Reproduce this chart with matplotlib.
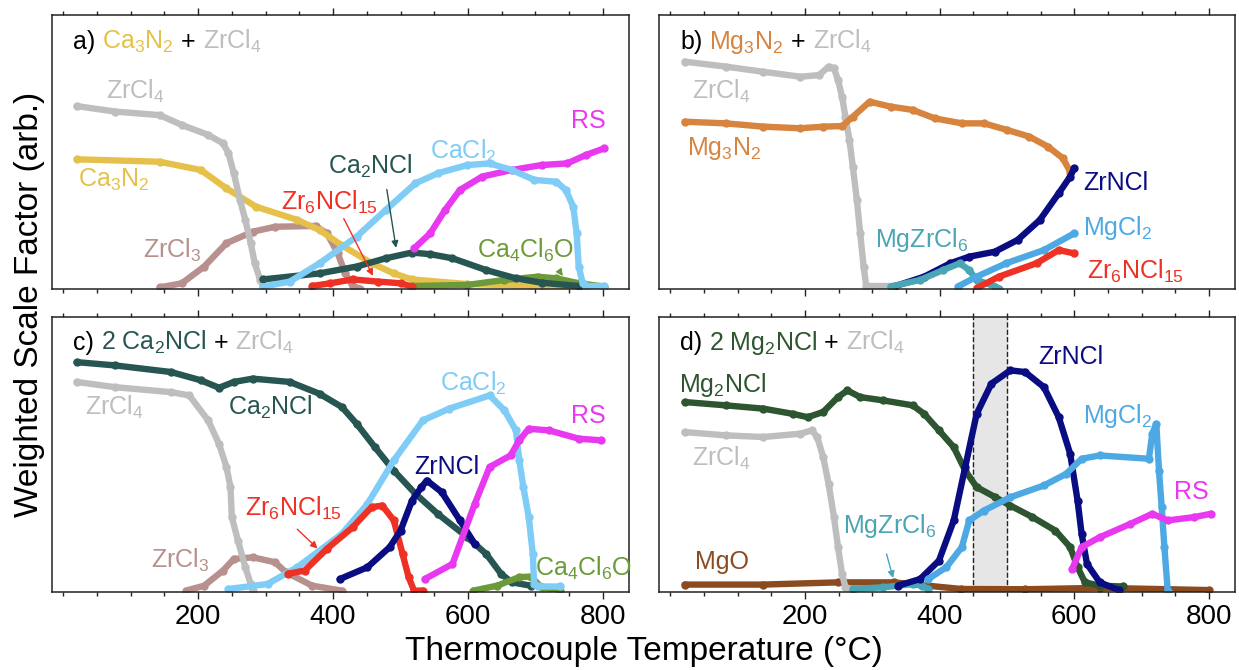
import matplotlib
matplotlib.use('Agg')
import matplotlib.pyplot as plt
import numpy as np

plt.rcParams['font.family'] = ['Liberation Sans', 'DejaVu Sans']
plt.rcParams['mathtext.default'] = 'regular'

# ---- data (y = arb. units, 0..100 of panel height) ----
# panel a) Ca3N2 + ZrCl4
a_zrcl4_t = [20, 77, 143, 176, 215, 237, 245, 253, 262, 270, 278, 284, 292, 296]
a_zrcl4_y = [66.8, 64.8, 63.5, 59.9, 56.3, 53.2, 49.6, 42.3, 32.6, 25.3, 16.8, 9.5, 3.4, 1.2]
a_ca3n2_t = [20, 143, 204, 242, 286, 347, 380, 412, 457, 490, 517, 599, 709, 764]
a_ca3n2_y = [47.4, 46.5, 43.5, 36.8, 30.1, 25.3, 21.6, 16.2, 9.5, 5.8, 3.6, 1.9, 1.2, 1.2]
a_zrcl3_t = [143, 176, 209, 242, 281, 314, 374, 391, 407, 418, 429, 440]
a_zrcl3_y = [0.7, 2.2, 8.3, 16.8, 21.0, 22.8, 23.1, 20.4, 13.1, 5.8, 1.2, 0.2]
a_ca2ncl_t = [296, 380, 435, 478, 517, 544, 577, 627, 671, 709, 764]
a_ca2ncl_y = [3.6, 5.8, 8.3, 11.3, 13.4, 12.8, 11.3, 7.0, 4.0, 2.4, 1.2]
a_cacl2_t = [296, 336, 380, 435, 478, 522, 555, 599, 632, 665, 698, 731, 745, 756, 761, 764, 770, 775, 802]
a_cacl2_y = [1.0, 2.8, 9.5, 19.2, 28.9, 38.6, 42.3, 45.3, 45.9, 43.5, 39.9, 39.2, 36.2, 30.1, 20.4, 8.3, 2.2, 1.2, 1.2]
a_rs_t = [520, 544, 566, 588, 621, 665, 709, 747, 775, 802]
a_rs_y = [14.9, 20.4, 28.9, 36.2, 41.1, 43.5, 45.3, 45.9, 49.0, 51.4]
a_zr6_t = [369, 396, 429, 467, 500, 517]
a_zr6_y = [1.2, 2.2, 3.6, 2.8, 2.2, 1.0]
a_ca4_t = [517, 599, 654, 703, 731, 764, 802]
a_ca4_y = [1.2, 1.6, 3.4, 4.6, 4.0, 2.2, 1.0]

# panel b) Mg3N2 + ZrCl4
b_zrcl4_t = [21, 82, 138, 193, 221, 235, 243, 249, 255, 260, 266, 271, 277, 282, 287, 291, 332]
b_zrcl4_y = [83.0, 81.2, 79.3, 77.5, 78.1, 81.2, 80.6, 76.3, 70.2, 62.9, 54.4, 44.7, 32.6, 20.4, 8.3, 1.2, 1.2]
b_mg3n2_t = [21, 82, 138, 193, 227, 255, 271, 296, 327, 360, 393, 433, 466, 500, 533, 561, 583, 594]
b_mg3n2_y = [61.1, 60.5, 59.3, 58.7, 59.3, 59.5, 62.9, 68.4, 66.6, 65.4, 62.3, 60.5, 60.5, 58.1, 55.7, 52.0, 47.8, 42.9]
b_zrncl_t = [332, 377, 416, 444, 482, 516, 549, 577, 594, 600]
b_zrncl_y = [1.0, 4.6, 9.5, 11.9, 13.7, 18.0, 25.3, 35.0, 41.1, 44.1]
b_mgzr_t = [327, 371, 405, 430, 444, 455, 483, 488]
b_mgzr_y = [1.0, 3.4, 7.0, 9.5, 7.0, 3.4, 1.0, 0.2]
b_mgcl2_t = [427, 455, 499, 555, 600]
b_mgcl2_y = [1.0, 4.6, 9.5, 14.3, 20.4]
b_zr6_t = [455, 488, 544, 577, 600]
b_zr6_y = [0.4, 4.6, 9.5, 14.3, 13.1]

# panel c) 2 Ca2NCl + ZrCl4
c_ca2ncl_t = [20, 77, 160, 204, 231, 253, 281, 336, 380, 413, 435, 462, 490, 522, 555, 599, 627, 649, 665, 693]
c_ca2ncl_y = [83.6, 82.4, 80.0, 77.0, 74.3, 76.4, 77.6, 76.4, 72.1, 67.3, 61.2, 52.7, 44.2, 35.8, 28.5, 20.0, 13.9, 6.7, 3.6, 2.4]
c_zrcl4_t = [20, 77, 160, 187, 215, 231, 242, 248, 250, 259, 270, 278, 281]
c_zrcl4_y = [76.4, 74.5, 72.7, 71.5, 62.4, 53.9, 45.5, 38.2, 27.3, 18.8, 9.1, 3.0, 0.6]
c_zrcl3_t = [182, 209, 237, 253, 281, 314, 330, 369, 413]
c_zrcl3_y = [0.6, 2.4, 7.9, 12.1, 12.7, 10.9, 7.3, 2.4, 0.6]
c_cacl2_t = [245, 303, 347, 413, 451, 490, 533, 572, 632, 654, 671, 676, 682, 690, 696, 698, 704, 737]
c_cacl2_y = [1.2, 3.0, 9.1, 21.2, 32.1, 47.9, 62.4, 66.7, 71.5, 66.1, 58.8, 47.9, 38.2, 27.3, 13.9, 3.0, 2.1, 2.1]
c_zr6_t = [333, 358, 391, 429, 457, 473, 490, 503, 512, 520, 533]
c_zr6_y = [6.7, 7.9, 15.8, 23.6, 30.9, 31.5, 26.1, 13.9, 5.5, 0.6, 0.6]
c_zrncl_t = [410, 451, 484, 500, 517, 531, 539, 561, 588, 610]
c_zrncl_y = [4.8, 9.1, 16.4, 22.4, 33.3, 38.2, 40.6, 36.4, 26.1, 17.6]
c_rs_t = [536, 577, 610, 632, 663, 676, 690, 720, 764, 797]
c_rs_y = [4.8, 10.3, 32.1, 45.5, 49.7, 55.2, 59.4, 58.8, 55.8, 55.2]
c_ca4_t = [608, 643, 676, 693, 709, 737]
c_ca4_y = [0.6, 2.4, 5.5, 5.7, 1.8, 0.6]

# panel d) 2 Mg2NCl + ZrCl4
d_mg2ncl_t = [21, 82, 138, 182, 204, 227, 249, 263, 282, 316, 360, 377, 399, 421, 438, 455, 483, 505, 538, 572, 594, 605, 616, 638, 672]
d_mg2ncl_y = [69.1, 67.9, 66.7, 64.8, 63.6, 65.5, 70.9, 73.3, 70.9, 69.7, 67.9, 64.8, 58.8, 52.7, 44.2, 38.2, 34.5, 31.5, 27.3, 22.4, 16.4, 9.1, 3.6, 2.4, 2.1]
d_zrcl4_t = [21, 82, 138, 193, 210, 218, 227, 235, 243, 249, 255, 260, 271]
d_zrcl4_y = [58.2, 57.0, 56.4, 57.6, 58.8, 56.4, 49.1, 39.4, 27.3, 16.4, 6.7, 1.8, 0.8]
d_mgo_t = [21, 138, 249, 332, 382, 432, 527, 639, 800]
d_mgo_y = [2.8, 2.8, 3.6, 3.6, 2.4, 1.2, 1.1, 1.6, 0.8]
d_mgzr_t = [271, 316, 360, 374, 383]
d_mgzr_y = [1.2, 1.8, 3.0, 2.4, 1.2]
d_zrncl_t = [338, 371, 399, 421, 438, 455, 477, 505, 527, 555, 577, 594, 605, 611, 619, 638, 666]
d_zrncl_y = [2.4, 4.8, 11.5, 26.1, 45.5, 64.8, 75.8, 80.6, 80.0, 74.5, 63.6, 50.3, 33.3, 21.2, 10.3, 3.6, 0.8]
d_mgcl2_t = [383, 410, 433, 444, 466, 505, 555, 588, 611, 638, 711, 716, 722, 726, 730, 734, 739]
d_mgcl2_y = [4.8, 9.1, 16.4, 26.1, 29.7, 34.5, 38.8, 43.0, 48.5, 49.7, 48.5, 57.6, 61.2, 44.2, 30.9, 16.4, 0.6]
d_rs_t = [597, 611, 638, 683, 716, 739, 778, 803]
d_rs_y = [8.5, 16.4, 20.0, 24.8, 28.5, 26.1, 27.3, 28.5]
d_window = [450, 500]

# colours
C_CA3N2 = '#E5C14B'
C_ZRCL4 = '#BEBEBE'
C_ZRCL3 = '#B8908D'
C_CA2NCL = '#275552'
C_CACL2 = '#7FCCF7'
C_RS = '#E838F0'
C_ZR6 = '#EE3124'
C_CA4 = '#6C9A3A'
C_MG3N2 = '#D7843F'
C_ZRNCL = '#0A0C82'
C_MGCL2 = '#4DA9E4'
C_MGZR = '#4AA5B5'
C_MG2NCL = '#2D5530'
C_MGO = '#8A4B20'

FS = 18

fig = plt.figure(figsize=(12.39, 6.70), dpi=100)
ax_a = fig.add_axes([0.0417, 0.5682, 0.4662, 0.4094])
ax_b = fig.add_axes([0.5319, 0.5682, 0.4649, 0.4094])
ax_c = fig.add_axes([0.0417, 0.1160, 0.4662, 0.4109])
ax_d = fig.add_axes([0.5319, 0.1160, 0.4649, 0.4109])


def curve(ax, t, y, c, z=2):
    ax.plot(t, y, color=c, lw=4.6, marker='o', ms=5, mec=c, mfc=c,
            solid_capstyle='round', solid_joinstyle='round', zorder=z)


def label(ax, x, y, s, c):
    ax.text(x, y, s, color=c, fontsize=FS, ha='left', va='center', zorder=5)


def arrow(ax, tail, head, c):
    ax.annotate('', xy=head, xytext=tail, zorder=6,
                arrowprops=dict(arrowstyle='-|>', color=c, lw=1, mutation_scale=10))


def rainbow(ax, x, y, parts):
    r = fig.canvas.get_renderer()
    gap = FS * 100 / 72 * 0.28
    for s, c in parts:
        t = ax.text(x, y, s, color=c, fontsize=FS, transform=ax.transAxes,
                    ha='left', va='baseline', zorder=5)
        bb = t.get_window_extent(r)
        x = ax.transAxes.inverted().transform((bb.x1 + gap, bb.y0))[0]


for ax, bottom in [(ax_a, False), (ax_b, False), (ax_c, True), (ax_d, True)]:
    ax.set_xlim(-17, 839)
    ax.set_ylim(0, 100)
    ax.set_yticks([])
    ax.set_xticks([200, 400, 600, 800])
    ax.set_xticks(np.arange(0, 850, 50), minor=True)
    ax.tick_params(axis='x', which='both', direction='out', top=True,
                   labelbottom=bottom, labelsize=20, color='#222222', width=1)
    ax.tick_params(axis='x', which='major', length=5)
    ax.tick_params(axis='x', which='minor', length=3)
    for sp in ax.spines.values():
        sp.set_color('#222222')
        sp.set_linewidth(1.1)

# a)
curve(ax_a, a_zrcl3_t, a_zrcl3_y, C_ZRCL3)
curve(ax_a, a_ca3n2_t, a_ca3n2_y, C_CA3N2)
curve(ax_a, a_zrcl4_t, a_zrcl4_y, C_ZRCL4)
curve(ax_a, a_ca4_t, a_ca4_y, C_CA4)
curve(ax_a, a_ca2ncl_t, a_ca2ncl_y, C_CA2NCL)
curve(ax_a, a_zr6_t, a_zr6_y, C_ZR6)
curve(ax_a, a_rs_t, a_rs_y, C_RS)
curve(ax_a, a_cacl2_t, a_cacl2_y, C_CACL2)
rainbow(ax_a, 0.037, 0.875, [('a)', 'black'), (r'Ca$_3$N$_2$', C_CA3N2),
                             ('+', 'black'), (r'ZrCl$_4$', C_ZRCL4)])
label(ax_a, 64, 72, r'ZrCl$_4$', C_ZRCL4)
label(ax_a, 22, 40, r'Ca$_3$N$_2$', C_CA3N2)
label(ax_a, 119, 14.3, r'ZrCl$_3$', C_ZRCL3)
label(ax_a, 323, 31.6, r'Zr$_6$NCl$_{15}$', C_ZR6)
label(ax_a, 393, 44.7, r'Ca$_2$NCl', C_CA2NCL)
label(ax_a, 544, 50.2, r'CaCl$_2$', C_CACL2)
label(ax_a, 752, 61.5, 'RS', C_RS)
label(ax_a, 613, 14.3, r'Ca$_4$Cl$_6$O', C_CA4)
arrow(ax_a, (479, 37.4), (494, 14.1), C_CA2NCL)
arrow(ax_a, (414, 26.7), (461, 4.0), C_ZR6)
arrow(ax_a, (733, 7.5), (743, 4.0), C_CA4)

# b)
curve(ax_b, b_zrcl4_t, b_zrcl4_y, C_ZRCL4)
curve(ax_b, b_mg3n2_t, b_mg3n2_y, C_MG3N2)
curve(ax_b, b_zrncl_t, b_zrncl_y, C_ZRNCL)
curve(ax_b, b_mgzr_t, b_mgzr_y, C_MGZR)
curve(ax_b, b_mgcl2_t, b_mgcl2_y, C_MGCL2)
curve(ax_b, b_zr6_t, b_zr6_y, C_ZR6)
rainbow(ax_b, 0.0365, 0.875, [('b)', 'black'), (r'Mg$_3$N$_2$', C_MG3N2),
                              ('+', 'black'), (r'ZrCl$_4$', C_ZRCL4)])
label(ax_b, 32, 72, r'ZrCl$_4$', C_ZRCL4)
label(ax_b, 24, 51.4, r'Mg$_3$N$_2$', C_MG3N2)
label(ax_b, 613, 38.6, 'ZrNCl', C_ZRNCL)
label(ax_b, 613, 22.2, r'MgCl$_2$', C_MGCL2)
label(ax_b, 619, 6.4, r'Zr$_6$NCl$_{15}$', C_ZR6)
label(ax_b, 304, 18.0, r'MgZrCl$_6$', C_MGZR)

# c)
curve(ax_c, c_zrcl3_t, c_zrcl3_y, C_ZRCL3)
curve(ax_c, c_zrcl4_t, c_zrcl4_y, C_ZRCL4)
curve(ax_c, c_ca2ncl_t, c_ca2ncl_y, C_CA2NCL)
curve(ax_c, c_ca4_t, c_ca4_y, C_CA4)
curve(ax_c, c_cacl2_t, c_cacl2_y, C_CACL2)
curve(ax_c, c_zr6_t, c_zr6_y, C_ZR6)
curve(ax_c, c_zrncl_t, c_zrncl_y, C_ZRNCL)
curve(ax_c, c_rs_t, c_rs_y, C_RS)
rainbow(ax_c, 0.037, 0.88, [('c)', 'black'), (r'2 Ca$_2$NCl', C_CA2NCL),
                            ('+', 'black'), (r'ZrCl$_4$', C_ZRCL4)])
label(ax_c, 32, 67.3, r'ZrCl$_4$', C_ZRCL4)
label(ax_c, 245, 67.3, r'Ca$_2$NCl', C_CA2NCL)
label(ax_c, 558, 75.8, r'CaCl$_2$', C_CACL2)
label(ax_c, 752, 64.2, 'RS', C_RS)
label(ax_c, 520, 45.5, 'ZrNCl', C_ZRNCL)
label(ax_c, 270, 30.3, r'Zr$_6$NCl$_{15}$', C_ZR6)
label(ax_c, 130, 11.5, r'ZrCl$_3$', C_ZRCL3)
label(ax_c, 699, 8.5, r'Ca$_4$Cl$_6$O', C_CA4)
arrow(ax_c, (344, 23.6), (380, 15.2), C_ZR6)

# d)
ax_d.axvspan(d_window[0], d_window[1], color='#e6e6e6', zorder=0)
for xv in d_window:
    ax_d.axvline(xv, color='#222222', lw=1, ls='--', zorder=1)
curve(ax_d, d_mgo_t, d_mgo_y, C_MGO)
curve(ax_d, d_zrcl4_t, d_zrcl4_y, C_ZRCL4)
curve(ax_d, d_mg2ncl_t, d_mg2ncl_y, C_MG2NCL)
curve(ax_d, d_mgzr_t, d_mgzr_y, C_MGZR)
curve(ax_d, d_zrncl_t, d_zrncl_y, C_ZRNCL)
curve(ax_d, d_mgcl2_t, d_mgcl2_y, C_MGCL2)
curve(ax_d, d_rs_t, d_rs_y, C_RS)
rainbow(ax_d, 0.036, 0.88, [('d)', 'black'), (r'2 Mg$_2$NCl', C_MG2NCL),
                            ('+', 'black'), (r'ZrCl$_4$', C_ZRCL4)])
label(ax_d, 12, 75.2, r'Mg$_2$NCl', C_MG2NCL)
label(ax_d, 32, 48.5, r'ZrCl$_4$', C_ZRCL4)
label(ax_d, 36, 10.9, 'MgO', C_MGO)
label(ax_d, 257, 24.2, r'MgZrCl$_6$', C_MGZR)
label(ax_d, 547, 85.5, 'ZrNCl', C_ZRNCL)
label(ax_d, 613, 64.2, r'MgCl$_2$', C_MGCL2)
label(ax_d, 749, 36.4, 'RS', C_RS)
arrow(ax_d, (320, 14.9), (332, 4.2), C_MGZR)

fig.text(0.024, 0.545, 'Weighted Scale Factor (arb.)', rotation=90,
         ha='center', va='center', fontsize=24)
fig.text(0.52, 0.027, 'Thermocouple Temperature (°C)', ha='center',
         va='center', fontsize=24)

fig.savefig('out.png', dpi=100)
